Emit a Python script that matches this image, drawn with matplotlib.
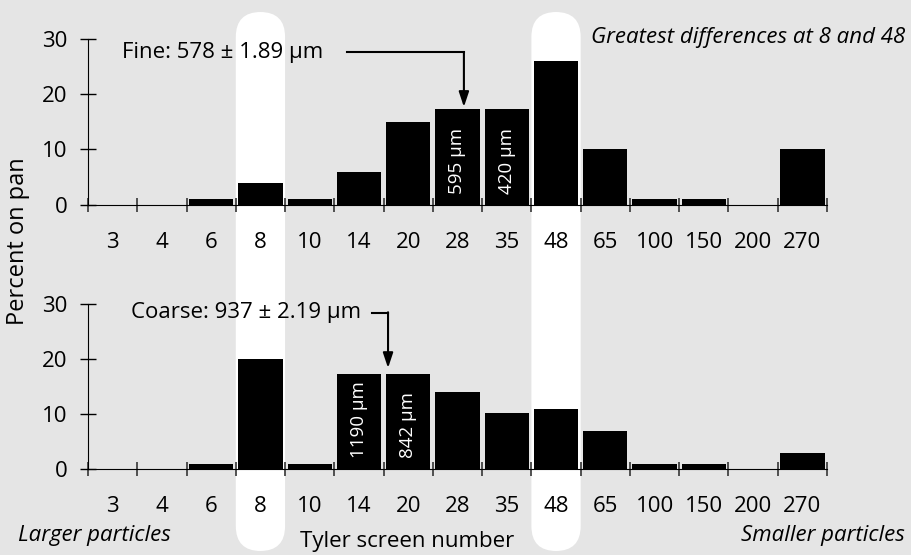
import numpy as np
import matplotlib
matplotlib.use('Agg')
import matplotlib.pyplot as plt
from matplotlib.patches import FancyBboxPatch

plt.rcParams['font.family'] = ['Open Sans', 'DejaVu Sans']

# Tyler screen numbers and percent retained on each pan
screens = ['3', '4', '6', '8', '10', '14', '20', '28', '35', '48', '65', '100', '150', '200', '270']
fine = [0, 0, 1, 4, 1, 6, 15, 17.3, 17.3, 26, 10, 1, 1, 0, 10]
coarse = [0, 0, 1, 20, 1, 17.3, 17.3, 14, 10.2, 11, 7, 1, 1, 0, 3]
highlight = ['8', '48']
fine_notes = {'28': '595 µm', '35': '420 µm'}
coarse_notes = {'14': '1190 µm', '20': '842 µm'}

bg_col = '#e5e5e5'
W, H = 911, 555
fs = 16
fig = plt.figure(figsize=(W / 100, H / 100), dpi=100, facecolor=bg_col)

bg = fig.add_axes([0, 0, 1, 1], zorder=0)
bg.set_xlim(0, W)
bg.set_ylim(H, 0)
bg.axis('off')

left, right = 88, 827
ax1 = fig.add_axes([left / W, 1 - 204.7 / H, (right - left) / W, (204.7 - 39) / H], zorder=1)
ax2 = fig.add_axes([left / W, 1 - 469.3 / H, (right - left) / W, (469.3 - 303.7) / H], zorder=1)

x = np.arange(len(screens))

for ax, vals, notes in [(ax1, fine, fine_notes), (ax2, coarse, coarse_notes)]:
    ax.set_facecolor('none')
    ax.bar(x, vals, width=0.9, color='black', zorder=3)
    ax.set_xlim(-0.5, len(screens) - 0.5)
    ax.set_ylim(0, 30)
    for s in ['top', 'right']:
        ax.spines[s].set_visible(False)
    ax.spines['left'].set_bounds(0, 30)
    ax.spines['left'].set_zorder(4)
    ax.spines['bottom'].set_zorder(4)
    ax.set_yticks([0, 10, 20, 30])
    ax.tick_params(axis='y', direction='inout', length=11, width=1, pad=9, labelsize=fs)
    ax.set_xticks(x)
    ax.set_xticklabels(screens)
    ax.set_xticks(np.arange(-0.5, len(screens), 1), minor=True)
    ax.tick_params(axis='x', which='major', length=0, pad=19.5, labelsize=fs)
    ax.tick_params(axis='x', which='minor', direction='inout', length=10, width=1.3, color='#444444')
    for name, txt in notes.items():
        ax.text(screens.index(name), 2, txt, rotation=90, ha='center', va='bottom',
                color='white', fontsize=13.5, zorder=5,
                family=['Liberation Sans Narrow', 'Open Sans', 'DejaVu Sans'])

# white rounded bands behind the highlighted screens
for name in highlight:
    i = screens.index(name)
    x0 = ax1.transData.transform((i - 0.5, 0))[0]
    x1 = ax1.transData.transform((i + 0.5, 0))[0]
    bg.add_patch(FancyBboxPatch((x0, 12), x1 - x0, 539,
                                boxstyle='round,pad=0,rounding_size=25',
                                fc='white', ec='none'))

# callouts with arrows
ax1.text(4.28, 27.6, 'Fine: 578 ± 1.89 µm', ha='right', va='center', fontsize=fs)
ax1.plot([4.76, 7.13], [27.6, 27.6], color='black', lw=1.5, clip_on=False)
ax1.annotate('', xy=(7.13, 17.7), xytext=(7.13, 27.65),
             arrowprops=dict(arrowstyle='-|>,head_length=0.9,head_width=0.3',
                             color='black', lw=1.5, shrinkA=0, shrinkB=0))

ax2.text(5.04, 28.4, 'Coarse: 937 ± 2.19 µm', ha='right', va='center', fontsize=fs)
ax2.plot([5.26, 5.59], [28.4, 28.4], color='black', lw=1.5, clip_on=False)
ax2.annotate('', xy=(5.59, 18.35), xytext=(5.59, 28.45),
             arrowprops=dict(arrowstyle='-|>,head_length=0.9,head_width=0.3',
                             color='black', lw=1.5, shrinkA=0, shrinkB=0))

fig.text(18 / W, 1 - 241 / H, 'Percent on pan', rotation=90, ha='center', va='center', fontsize=17)
fig.text(407 / W, 1 - 542 / H, 'Tyler screen number', ha='center', va='center', fontsize=fs)
fig.text(18 / W, 1 - 536 / H, 'Larger particles', ha='left', va='center', fontsize=fs, style='italic')
fig.text(905 / W, 1 - 535 / H, 'Smaller particles', ha='right', va='center', fontsize=fs, style='italic')
fig.text(905 / W, 1 - 38 / H, 'Greatest differences at 8 and 48', ha='right', va='center',
         fontsize=fs, style='italic')

fig.savefig('out.png', dpi=100, facecolor=bg_col)
